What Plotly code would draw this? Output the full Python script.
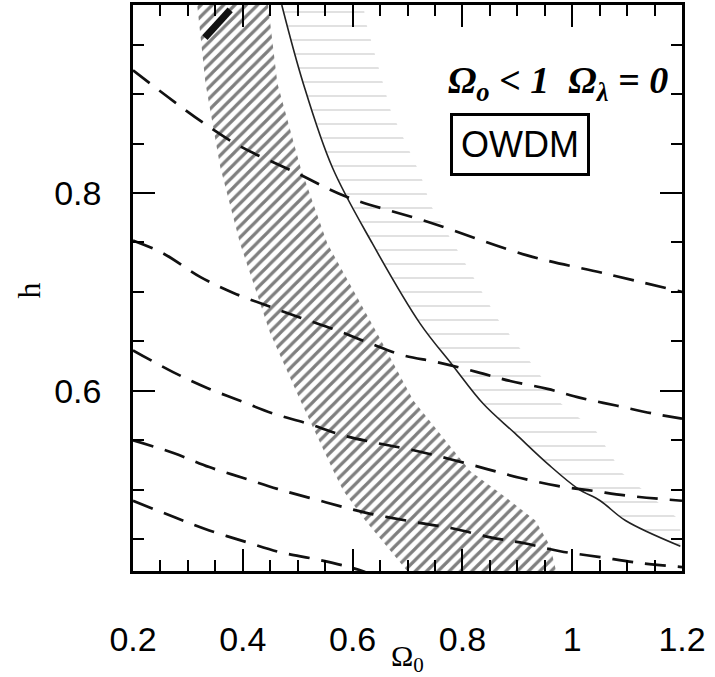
import plotly.graph_objects as go

# ---- data (Omega_0 on x, h on y) ----
# diagonal-hatched band: left and right edges
band_left_h = [0.99, 0.911, 0.826, 0.749, 0.658, 0.590, 0.519, 0.499, 0.469, 0.417]
band_left_x = [0.317, 0.332, 0.359, 0.395, 0.450, 0.505, 0.565, 0.583, 0.623, 0.701]
band_right_h = [0.99, 0.911, 0.826, 0.749, 0.658, 0.590, 0.519, 0.489, 0.469, 0.443, 0.417]
band_right_x = [0.446, 0.463, 0.505, 0.554, 0.645, 0.711, 0.814, 0.887, 0.933, 0.960, 0.971]

# solid curve
solid_x = [0.471, 0.510, 0.563, 0.636, 0.723, 0.782, 0.838, 0.896, 0.956, 1.011, 1.051, 1.097, 1.197]
solid_h = [0.99, 0.911, 0.826, 0.749, 0.668, 0.626, 0.587, 0.557, 0.526, 0.501, 0.489, 0.469, 0.443]

# right edge of the dotted (horizontal) hatching
dots_x = [0.620, 0.623, 0.669, 0.724, 0.742, 0.818, 0.864, 0.920, 0.980, 1.044, 1.091, 1.197]
dots_h = [0.99, 0.975, 0.884, 0.818, 0.788, 0.717, 0.673, 0.632, 0.587, 0.559, 0.517, 0.469]

# dashed curves
d1_x = [0.2, 0.377, 0.499, 0.590, 0.742, 0.918, 1.057, 1.2]
d1_h = [0.924, 0.853, 0.820, 0.796, 0.770, 0.737, 0.719, 0.700]
d2_x = [0.2, 0.255, 0.323, 0.383, 0.445, 0.505, 0.572, 0.632, 0.692, 0.754, 0.827, 0.887, 0.955, 1.015, 1.082, 1.148, 1.2]
d2_h = [0.752, 0.739, 0.715, 0.699, 0.686, 0.674, 0.661, 0.648, 0.636, 0.629, 0.619, 0.610, 0.602, 0.593, 0.585, 0.577, 0.572]
d3_x = [0.2, 0.273, 0.335, 0.395, 0.456, 0.518, 0.583, 0.647, 0.711, 0.778, 0.845, 0.906, 0.973, 1.038, 1.102, 1.2]
d3_h = [0.641, 0.619, 0.603, 0.590, 0.577, 0.567, 0.555, 0.547, 0.540, 0.531, 0.521, 0.512, 0.504, 0.499, 0.494, 0.489]
d4_x = [0.2, 0.275, 0.339, 0.401, 0.463, 0.541, 0.623, 0.718, 0.783, 0.851, 0.913, 0.978, 1.051, 1.124, 1.2]
d4_h = [0.550, 0.537, 0.523, 0.512, 0.501, 0.489, 0.477, 0.467, 0.461, 0.452, 0.446, 0.438, 0.432, 0.426, 0.422]
d5_x = [0.2, 0.277, 0.339, 0.408, 0.468, 0.532, 0.594, 0.623]
d5_h = [0.489, 0.472, 0.459, 0.447, 0.437, 0.430, 0.422, 0.417]

# dark smudge at top of band
smudge_x = [0.331, 0.377]
smudge_h = [0.957, 0.985]

x_ticks = [0.2, 0.4, 0.6, 0.8, 1.0, 1.2]
x_labels = ["0.2", "0.4", "0.6", "0.8", "1", "1.2"]
y_ticks = [0.6, 0.8]
y_labels = ["0.6", "0.8"]

fig = go.Figure()

# hatched band polygon
fig.add_trace(go.Scatter(
    x=band_left_x + band_right_x[::-1],
    y=band_left_h + band_right_h[::-1],
    mode="lines", line=dict(width=0, color="rgba(0,0,0,0)"),
    fill="toself", fillcolor="rgba(0,0,0,0)",
    fillpattern=dict(shape="/", size=8, solidity=0.4, fgcolor="#000000", bgcolor="rgba(0,0,0,0)"),
    hoverinfo="skip", showlegend=False))

# dotted horizontal hatching region
fig.add_trace(go.Scatter(
    x=solid_x + dots_x[::-1],
    y=solid_h + dots_h[::-1],
    mode="lines", line=dict(width=0, color="rgba(0,0,0,0)"),
    fill="toself", fillcolor="rgba(0,0,0,0)",
    fillpattern=dict(shape="-", size=14, solidity=0.09, fgcolor="#a0a0a0", bgcolor="rgba(0,0,0,0)"),
    hoverinfo="skip", showlegend=False))

fig.add_trace(go.Scatter(x=smudge_x, y=smudge_h, mode="lines",
                         line=dict(color="#111111", width=7), showlegend=False))

fig.add_trace(go.Scatter(x=solid_x, y=solid_h, mode="lines",
                         line=dict(color="#222222", width=1.6, shape="spline"), showlegend=False))

for dx, dh in [(d1_x, d1_h), (d2_x, d2_h), (d3_x, d3_h), (d4_x, d4_h), (d5_x, d5_h)]:
    fig.add_trace(go.Scatter(x=dx, y=dh, mode="lines",
                             line=dict(color="#111111", width=2.7, dash="21px,12px", shape="spline"),
                             showlegend=False))

axis_common = dict(showline=True, linecolor="black", linewidth=2.5, mirror="allticks",
                   ticks="inside", tickcolor="black", tickwidth=2, ticklen=22,
                   showgrid=False, zeroline=False, automargin=False,
                   tickfont=dict(family="Liberation Sans, Arial, sans-serif", size=34, color="black"))

fig.update_xaxes(range=[0.2, 1.2], tickvals=x_ticks, ticktext=x_labels,
                 minor=dict(dtick=0.05, tick0=0, ticks="inside", ticklen=11, tickwidth=2, tickcolor="black"),
                 ticklabelstandoff=36,
                 **axis_common)
fig.update_yaxes(range=[0.418, 0.99], tickvals=y_ticks, ticktext=y_labels,
                 minor=dict(dtick=0.05, tick0=0, ticks="inside", ticklen=11, tickwidth=2, tickcolor="black"),
                 ticklabelstandoff=22,
                 **axis_common)

# axis titles
fig.add_annotation(xref="paper", yref="paper", x=0.5, y=-0.153, xanchor="center", yanchor="middle",
                   text="Ω<sub>0</sub>", showarrow=False,
                   font=dict(family="Liberation Serif, Times New Roman, serif", size=30, color="black"))
fig.add_annotation(xref="paper", yref="paper", x=-0.19, y=0.495, xanchor="center", yanchor="middle",
                   text="h", showarrow=False, textangle=-90,
                   font=dict(family="Liberation Serif, Times New Roman, serif", size=32, color="black"))

fig.add_annotation(xref="paper", yref="paper", x=0.775, y=0.862, xanchor="center", yanchor="middle",
                   text="<b><i>Ω<sub>o</sub> &lt; 1  Ω<sub>λ</sub> = 0</i></b>", showarrow=False,
                   font=dict(family="Liberation Serif, serif", size=38, color="black"))
fig.add_annotation(xref="paper", yref="paper", x=0.705, y=0.753, xanchor="center", yanchor="middle",
                   text="OWDM", showarrow=False, bordercolor="black", borderwidth=3, borderpad=8,
                   font=dict(family="Liberation Sans, Arial, sans-serif", size=36, color="black"))

fig.update_layout(width=715, height=677, margin=dict(l=133, r=33, t=5, b=106),
                  plot_bgcolor="white", paper_bgcolor="white", showlegend=False)

fig.write_html("out.html", config={"displayModeBar": False},
               post_script="document.body.style.margin='0';")
